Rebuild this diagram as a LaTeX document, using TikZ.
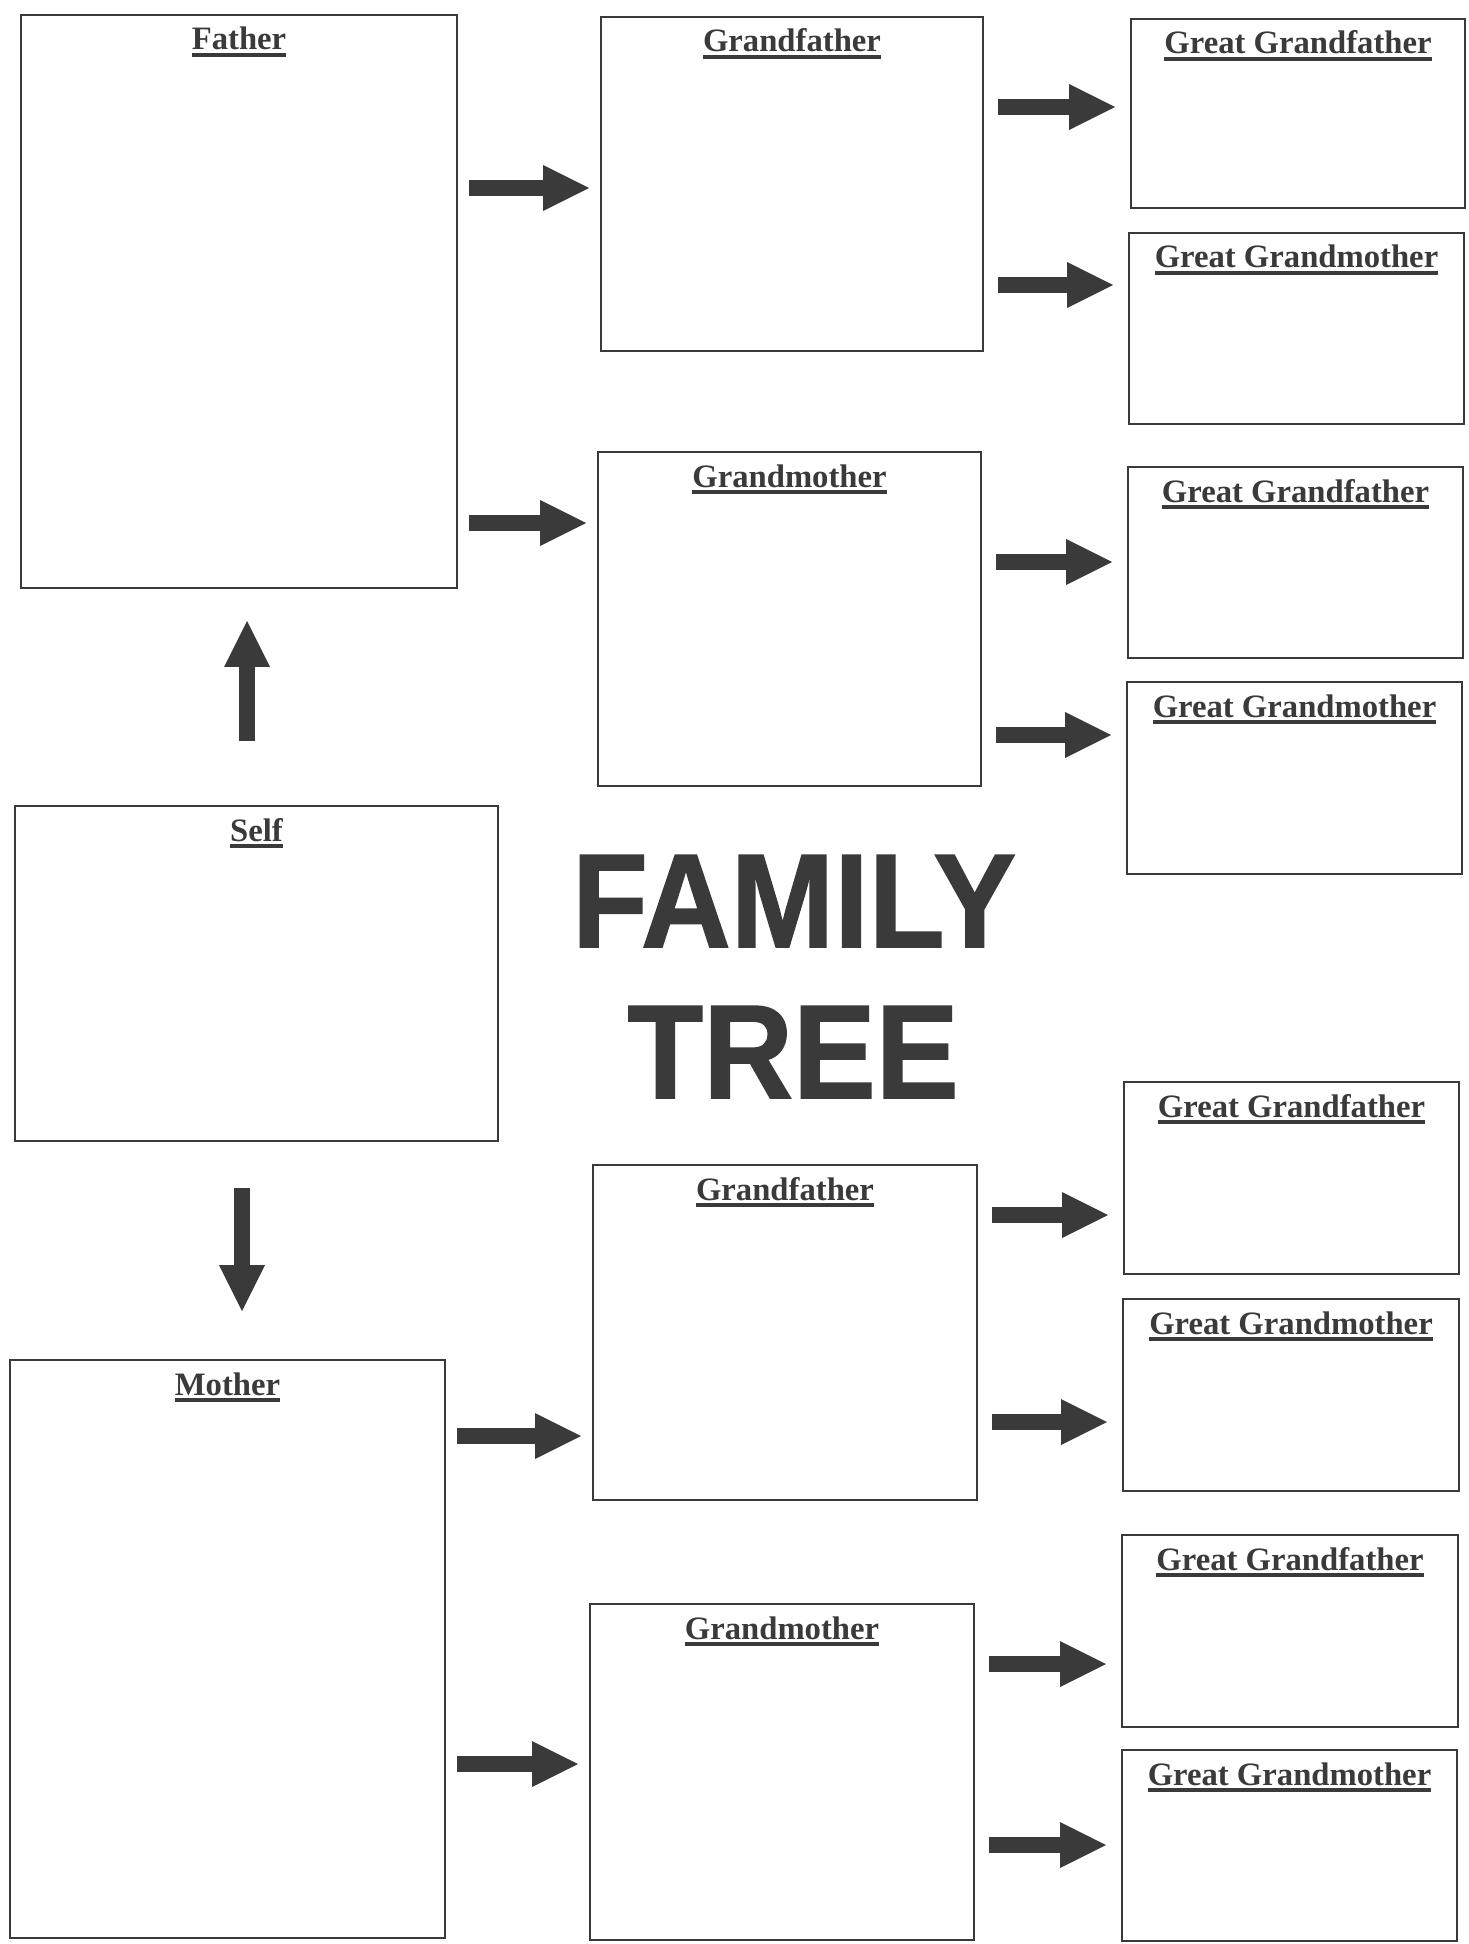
\documentclass[tikz,border=0pt]{standalone}
\usepackage{fontspec}
\setmainfont{Liberation Serif}
\newfontfamily\titlefont[BoldFeatures={FakeBold=1.2}]{Liberation Sans}
\usetikzlibrary{arrows.meta}
\definecolor{inkgray}{HTML}{3A3A3A}
\newcommand{\undl}[1]{\setbox0\hbox{#1}\rlap{\rule[-1.9pt]{\wd0}{1pt}}\box0}

\begin{document}
\begin{tikzpicture}[x=0.1mm, y=-0.1mm]
	\tikzstyle{box} = [draw=inkgray, line width=0.8pt, rectangle, anchor=north west, outer sep=0pt]
	\tikzstyle{lbl} = [anchor=base, yshift=-0.35cm, inner sep=0pt, text=inkgray, font=\fontsize{9.3}{11}\selectfont\bfseries]
	\tikzstyle{title} = [anchor=base, inner sep=0pt, text=inkgray, font=\titlefont\fontsize{38}{40}\selectfont\bfseries, xscale=0.93]
	\tikzstyle{fat} = [draw=inkgray, line width=0.165cm, -{Triangle[width=0.46cm, length=0.46cm, line width=0pt]}, shorten <=0.12cm, shorten >=0.12cm]
	\tikzstyle{fatr} = [fat, shorten <=0.15cm, shorten >=0.16cm]
	\useasboundingbox (0,0) rectangle (1469,1944);
	% left column
	\node[box, minimum width=4.36cm, minimum height=5.73cm, label={[lbl]north:\undl{Father}}] (father) at (21,15) {};
	\node[box, minimum width=4.83cm, minimum height=3.35cm, label={[lbl]north:\undl{Self}}] (self) at (15,806) {};
	\node[box, minimum width=4.35cm, minimum height=5.78cm, label={[lbl]north:\undl{Mother}}] (mother) at (10,1360) {};
	% grandparents
	\node[box, minimum width=3.82cm, minimum height=3.34cm, label={[lbl]north:\undl{Grandfather}}] (gfP) at (601,17) {};
	\node[box, minimum width=3.83cm, minimum height=3.34cm, label={[lbl]north:\undl{Grandmother}}] (gmP) at (598,452) {};
	\node[box, minimum width=3.84cm, minimum height=3.35cm, label={[lbl]north:\undl{Grandfather}}] (gfM) at (593,1165) {};
	\node[box, minimum width=3.84cm, minimum height=3.36cm, label={[lbl]north:\undl{Grandmother}}] (gmM) at (590,1604) {};
	% great grandparents
	\node[box, minimum width=3.34cm, minimum height=1.89cm, label={[lbl]north:\undl{Great Grandfather}}] (ggf1) at (1131,19) {};
	\node[box, minimum width=3.35cm, minimum height=1.91cm, label={[lbl]north:\undl{Great Grandmother}}] (ggm1) at (1129,233) {};
	\node[box, minimum width=3.35cm, minimum height=1.91cm, label={[lbl]north:\undl{Great Grandfather}}] (ggf2) at (1128,467) {};
	\node[box, minimum width=3.35cm, minimum height=1.92cm, label={[lbl]north:\undl{Great Grandmother}}] (ggm2) at (1127,682) {};
	\node[box, minimum width=3.35cm, minimum height=1.92cm, label={[lbl]north:\undl{Great Grandfather}}] (ggf3) at (1124,1082) {};
	\node[box, minimum width=3.36cm, minimum height=1.92cm, label={[lbl]north:\undl{Great Grandmother}}] (ggm3) at (1123,1299) {};
	\node[box, minimum width=3.36cm, minimum height=1.92cm, label={[lbl]north:\undl{Great Grandfather}}] (ggf4) at (1122,1535) {};
	\node[box, minimum width=3.35cm, minimum height=1.91cm, label={[lbl]north:\undl{Great Grandmother}}] (ggm4) at (1122,1750) {};
	% title
	\node[title] (family) at (794,947) {FAMILY};
	\node[title] (tree) at (793,1098) {TREE};
	% arrows
	\draw[fat, shorten <=0.65cm, shorten >=0.33cm] (self.north -| 247,0) -- (father.south -| 247,0);
	\draw[fat, shorten <=0.47cm, shorten >=0.49cm] (self.south -| 242,0) -- (mother.north -| 242,0);
	\draw[fat] (father.east |- 0,188) -- (gfP.west |- 0,188);
	\draw[fat] (father.east |- 0,523) -- (gmP.west |- 0,523);
	\draw[fat] (mother.east |- 0,1436) -- (gfM.west |- 0,1436);
	\draw[fat] (mother.east |- 0,1764) -- (gmM.west |- 0,1764);
	\draw[fatr] (gfP.east |- 0,107) -- (ggf1.west |- 0,107);
	\draw[fatr] (gfP.east |- 0,285) -- (ggm1.west |- 0,285);
	\draw[fatr] (gmP.east |- 0,562) -- (ggf2.west |- 0,562);
	\draw[fatr] (gmP.east |- 0,735) -- (ggm2.west |- 0,735);
	\draw[fatr] (gfM.east |- 0,1215) -- (ggf3.west |- 0,1215);
	\draw[fatr] (gfM.east |- 0,1422) -- (ggm3.west |- 0,1422);
	\draw[fatr] (gmM.east |- 0,1664) -- (ggf4.west |- 0,1664);
	\draw[fatr] (gmM.east |- 0,1845) -- (ggm4.west |- 0,1845);
\end{tikzpicture}
\end{document}
